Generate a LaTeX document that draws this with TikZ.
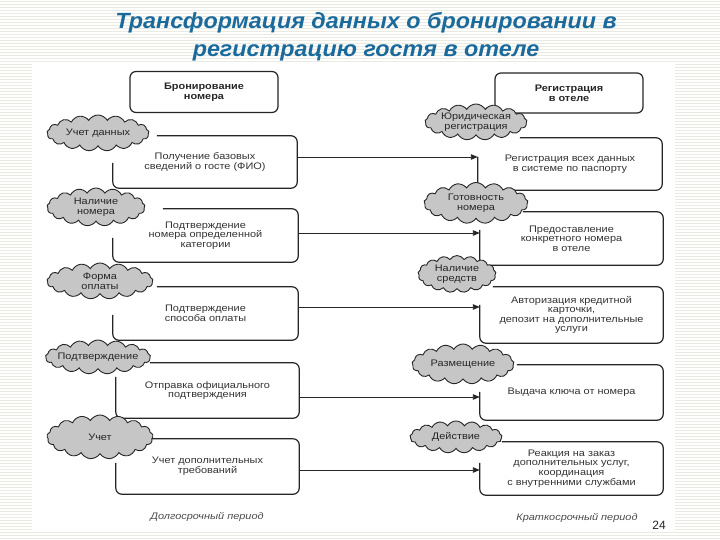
\documentclass[tikz,border=0pt]{standalone}
\usepackage{fontspec}
\setmainfont{Liberation Sans}
\newfontfamily\boxfont[FakeStretch=1.15]{Liberation Sans}
\newfontfamily\titlefont[FakeStretch=1.06]{Liberation Sans}
\usetikzlibrary{shapes.symbols,arrows.meta,calc}
\definecolor{titleblue}{HTML}{1B6A9C}
\definecolor{cloudgray}{HTML}{C6C6C6}
\definecolor{stripe}{HTML}{EAEAE3}
\newcommand\openbox[3]{\draw[boxline] ([yshift=-#3pt]#1.north west) -- (#1.south west) -- (#1.south east) -- (#1.north east) -- ([xshift=#2pt]#1.north west);}
\begin{document}
\begin{tikzpicture}[x=1pt,y=-1pt,
  boxline/.style={line width=1.2pt, rounded corners=6pt, draw=black!85},
  bx/.style={inner sep=0pt, align=center, text=black!80,
    font=\boxfont\fontsize{9.5}{9.6}\selectfont},
  hdr/.style={draw=black!85, line width=1.2pt, rounded corners=6pt, inner sep=0pt,
    align=center, text=black!85, font=\boxfont\bfseries\fontsize{9.5}{9.6}\selectfont},
  cl/.style={cloud, cloud puffs=17, cloud puff arc=120, draw=black!85, line width=0.9pt,
    fill=cloudgray, inner sep=0pt},
  ctxt/.style={align=center, text=black!85, font=\boxfont\fontsize{9.5}{9.6}\selectfont},
  arr/.style={line width=0.9pt, draw=black!85, -{Triangle[length=7pt,width=5.5pt]}},
  lbl/.style={font=\boxfont\itshape\fontsize{9.5}{9.6}\selectfont, text=black!70}
]
\useasboundingbox (0,0) rectangle (720,540);
% background
\fill[white] (0,0) rectangle (720,540);
\foreach \yy in {1.5,4.5,...,540} \draw[stripe, line width=1.3pt] (0,\yy) -- (720,\yy);
\fill[white] (32,62) rectangle (675,532);
% title
\node[text=titleblue, align=center, font=\titlefont\bfseries\itshape\fontsize{22}{28}\selectfont] (title) at (366,37)
  {Трансформация данных о бронировании в\\регистрацию гостя в отеле};
% headers
\node[hdr, minimum width=148pt, minimum height=41pt] (HL) at (204,92) {Бронирование\\номера};
\node[hdr, minimum width=148pt, minimum height=40pt] (HR) at (569,93) {Регистрация\\в отеле};
% left boxes
\node[bx, minimum width=184pt, minimum height=52pt] (L1) at (205,162) {Получение базовых\\сведений о госте (ФИО)};
\node[bx, minimum width=185pt, minimum height=53pt] (L2) at (205.5,235.5) {Подтверждение\\номера определенной\\категории};
\node[bx, minimum width=185pt, minimum height=53pt] (L3) at (205.5,313.5) {Подтверждение\\способа оплаты};
\node[bx, minimum width=183pt, minimum height=55pt] (L4) at (207.5,390.5) {Отправка официального\\подтверждения};
\node[bx, minimum width=183pt, minimum height=55pt] (L5) at (207.5,466.5) {Учет дополнительных\\требований};
% right boxes
\node[bx, minimum width=184pt, minimum height=52pt] (R1) at (570,164) {Регистрация всех данных\\в системе по паспорту};
\node[bx, minimum width=183pt, minimum height=53pt] (R2) at (571.5,238.5) {Предоставление\\конкретного номера\\в отеле};
\node[bx, minimum width=183pt, minimum height=56pt] (R3) at (571.5,315) {Авторизация кредитной\\карточки,\\депозит на дополнительные\\услуги};
\node[bx, minimum width=183pt, minimum height=55pt] (R4) at (571.5,392.5) {Выдача ключа от номера};
\node[bx, minimum width=183pt, minimum height=53pt] (R5) at (571.5,468.5) {Реакция на заказ\\дополнительных услуг,\\координация\\с внутренними службами};
% box outlines (top-left corner left open)
\openbox{L1}{44}{27}
\openbox{L2}{50}{29}
\openbox{L3}{44}{28}
\openbox{L4}{34}{14}
\openbox{L5}{34}{24}
\openbox{R1}{42}{19}
\openbox{R2}{43}{18}
\openbox{R3}{13}{18}
\openbox{R4}{37}{27}
\openbox{R5}{22}{21}
% arrow heights
\coordinate (y1) at (0,157);
\coordinate (y2) at (0,233);
\coordinate (y3) at (0,307);
\coordinate (y4) at (0,397);
\coordinate (y5) at (0,470);
\draw[arr] (L1.east |- y1) -- (R1.west |- y1);
\draw[arr] (L2.east |- y2) -- (R2.west |- y2);
\draw[arr] (L3.east |- y3) -- (R3.west |- y3);
\draw[arr] (L4.east |- y4) -- (R4.west |- y4);
\draw[arr] (L5.east |- y5) -- (R5.west |- y5);
% clouds
\node[cl, minimum width=102pt, minimum height=36pt, aspect=2.85, label={[ctxt]center:Учет данных}] (CL1) at (98,133) {};
\node[cl, minimum width=98pt, minimum height=38pt, aspect=2.6, label={[ctxt]center:Наличие\\номера}] (CL2) at (96,207) {};
\node[cl, minimum width=106pt, minimum height=36pt, aspect=2.95, label={[ctxt]center:Форма\\оплаты}] (CL3) at (100,281) {};
\node[cl, minimum width=105pt, minimum height=34pt, aspect=3.1, label={[ctxt]center:Подтверждение}] (CL4) at (98,357) {};
\node[cl, minimum width=106pt, minimum height=44pt, aspect=2.4, label={[ctxt]center:Учет}] (CL5) at (100,437) {};
\node[cl, minimum width=102pt, minimum height=36pt, aspect=2.85, label={[ctxt]center:Юридическая\\регистрация}] (CR1) at (476,122) {};
\node[cl, minimum width=104pt, minimum height=41pt, aspect=2.55, label={[ctxt]center:Готовность\\номера}] (CR2) at (476,203) {};
\node[cl, minimum width=78pt, minimum height=37pt, aspect=2.1, label={[ctxt]center:Наличие\\средств}] (CR3) at (457,274) {};
\node[cl, minimum width=102pt, minimum height=40pt, aspect=2.55, label={[ctxt]center:Размещение}] (CR4) at (463,364) {};
\node[cl, minimum width=92pt, minimum height=32pt, aspect=2.9, label={[ctxt]center:Действие}] (CR5) at (456,437) {};
% bottom labels
\node[lbl] (PL) at (207,517) {Долгосрочный период};
\node[lbl] (PR) at (577,518) {Краткосрочный период};
\node[font=\fontsize{12}{14}\selectfont, text=black!85] (num) at (659,525) {24};
\end{tikzpicture}
\end{document}
